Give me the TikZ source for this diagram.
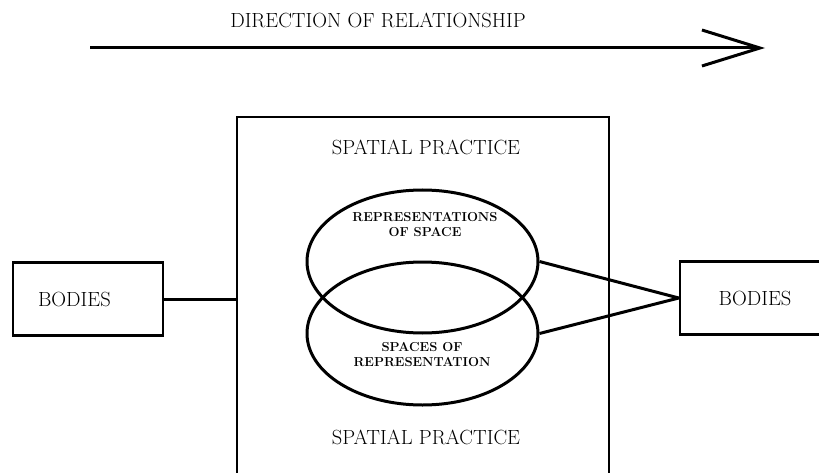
\documentclass[tikz,border=0pt]{standalone}
\usepackage{tikz}
\usetikzlibrary{shapes.geometric,arrows.meta}

\begin{document}
\begin{tikzpicture}
[x=1pt,y=-1pt,line width=2.5pt,
 every node/.style={font=\fontsize{20.5}{22}\selectfont},
 box/.style={draw,rectangle,minimum width=150pt,minimum height=73pt},
 oval/.style={draw,ellipse,minimum width=231pt,minimum height=143pt,line width=3pt},
 small/.style={font=\bfseries\fontsize{13}{15}\selectfont,align=center}]
\useasboundingbox (0,0) rectangle (819,473);
\clip (0,0) rectangle (819,473);
% direction arrow
\node (dir) at (378,20) {DIRECTION OF RELATIONSHIP};
\coordinate (from) at (90,48);
\coordinate (to) at (765,48);
\draw[line width=3pt,-{Straight Barb[length=58pt,width=36pt]}] (from) -- (to);
% spatial practice frame
\node[draw,minimum width=372pt,minimum height=364pt] (practice) at (423,299) {};
\node (sptop) at (426,147) {SPATIAL PRACTICE};
\node (spbot) at (426,437) {SPATIAL PRACTICE};
% the two ovals
\node[oval] (repspace) at (422.5,261.5) {};
\node[oval] (spacerep) at (422.5,333.5) {};
\node[small] (rs) at (425,225) {REPRESENTATIONS\\OF SPACE};
\node[small] (sr) at (422,355) {SPACES OF\\REPRESENTATION};
% bodies
\node[box,align=left,text width=100pt,inner xsep=25pt] (bodyL) at (88,299) {BODIES};
\node[box] (bodyR) at (755,298) {BODIES};
\foreach \from/\to in {bodyL.east/practice.west,repspace.east/bodyR.west,spacerep.east/bodyR.west}
\draw[line width=3pt] (\from) -- (\to);
\end{tikzpicture}
\end{document}
